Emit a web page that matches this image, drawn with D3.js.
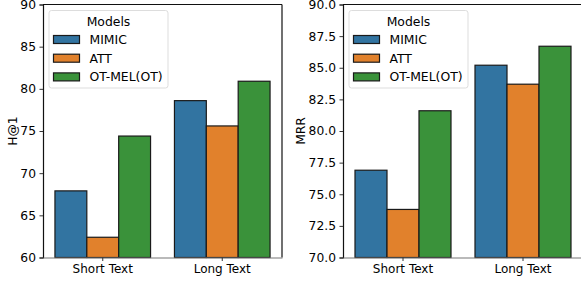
<!DOCTYPE html>
<html>
<head>
<meta charset="utf-8">
<script src="https://cdn.jsdelivr.net/npm/d3@7"></script>
<style>
  body { margin: 0; background: #fff; }
  text { font-family: "DejaVu Sans", sans-serif; }
</style>
</head>
<body>
<div id="chart"></div>
<script>
// data
let categories = ["Short Text", "Long Text"];
let models = ["MIMIC", "ATT", "OT-MEL(OT)"];
let h1Values = [
  [67.9, 62.4, 74.4],
  [78.6, 75.6, 80.9]
];
let mrrValues = [
  [76.9, 73.8, 81.6],
  [85.2, 83.7, 86.7]
];
let h1Ticks = [60, 65, 70, 75, 80, 85, 90];
let mrrTicks = [70.0, 72.5, 75.0, 77.5, 80.0, 82.5, 85.0, 87.5, 90.0];

let colors = ["#3274a1", "#e1812c", "#3a923a"];

let width = 581;
let height = 282;
let plotTop = 4.5;
let plotBottom = 257.5;

let svg = d3
  .select("#chart")
  .append("svg")
  .attr("width", width)
  .attr("height", height);

function panel(opts) {
  let g = svg.append("g");

  let x = d3
    .scaleBand()
    .domain(categories)
    .range([opts.left, opts.right]);
  let xInner = d3
    .scaleBand()
    .domain(models)
    .range([0, x.bandwidth() * 0.8]);
  let y = d3.scaleLinear().domain(opts.domain).range([plotBottom, plotTop]);

  // bars
  opts.values.forEach(function(row, ci) {
    row.forEach(function(v, mi) {
      let x0 = x(categories[ci]) + x.bandwidth() * 0.1 + xInner(models[mi]);
      g.append("rect")
        .attr("x", x0)
        .attr("y", y(v))
        .attr("width", xInner.bandwidth())
        .attr("height", y(opts.domain[0]) - y(v))
        .attr("fill", colors[mi])
        .attr("stroke", "#1a1a1a")
        .attr("stroke-width", 1.2);
    });
  });

  // frame
  g.append("line")
    .attr("x1", opts.left).attr("x2", opts.right)
    .attr("y1", plotTop).attr("y2", plotTop)
    .attr("stroke", "#111").attr("stroke-width", 1.2);
  g.append("line")
    .attr("x1", opts.right).attr("x2", opts.right)
    .attr("y1", plotTop).attr("y2", plotBottom)
    .attr("stroke", "#111").attr("stroke-width", 1.2);

  // axes
  let yAxis = d3
    .axisLeft(y)
    .tickValues(opts.ticks)
    .tickFormat(opts.fmt)
    .tickSize(3.5)
    .tickPadding(3.5);
  let ya = g.append("g")
    .attr("transform", `translate(${opts.left},0)`)
    .call(yAxis);
  ya.select(".domain").attr("stroke", "#111").attr("stroke-width", 1.2);
  ya.selectAll(".tick line").attr("stroke", "#333");
  ya.selectAll("text").attr("font-size", 12.3).attr("fill", "#000")
    .attr("font-family", "DejaVu Sans");

  let xAxis = d3.axisBottom(x).tickSize(3.5).tickPadding(3.5).tickSizeOuter(0);
  let xa = g.append("g")
    .attr("transform", `translate(0,${plotBottom})`)
    .call(xAxis);
  xa.select(".domain").attr("stroke", "#777").attr("stroke-width", 1.2);
  xa.selectAll(".tick line").attr("stroke", "#333");
  xa.selectAll("text").attr("font-size", 12).attr("fill", "#000")
    .attr("font-family", "DejaVu Sans");

  // y label
  g.append("text")
    .attr("transform", `translate(${opts.labelX},${(plotTop + plotBottom) / 2}) rotate(-90)`)
    .attr("text-anchor", "middle")
    .attr("dy", "0.35em")
    .attr("font-size", 12.3)
    .attr("fill", "#000")
    .text(opts.label);

  // legend
  let lx = opts.left + 6;
  let ly = 10.5;
  let lg = g.append("g").attr("transform", `translate(${lx},${ly})`);
  lg.append("rect")
    .attr("width", 119)
    .attr("height", 77.5)
    .attr("rx", 2.5)
    .attr("fill", "#fff")
    .attr("fill-opacity", 0.8)
    .attr("stroke", "#ddd");
  lg.append("text")
    .attr("x", 59.5)
    .attr("y", 15.5)
    .attr("text-anchor", "middle")
    .attr("font-size", 12.4)
    .attr("fill", "#000")
    .text("Models");
  models.forEach(function(m, i) {
    let ry = 25 + i * 18.7;
    lg.append("rect")
      .attr("x", 4.5)
      .attr("y", ry)
      .attr("width", 26)
      .attr("height", 8)
      .attr("fill", colors[i])
      .attr("stroke", "#1a1a1a")
      .attr("stroke-width", 1.2);
    lg.append("text")
      .attr("x", 40.5)
      .attr("y", ry + 4)
      .attr("dy", "0.35em")
      .attr("font-size", 12.4)
      .attr("fill", "#000")
      .text(m);
  });
}

panel({
  left: 43, right: 282,
  domain: [60, 90], ticks: h1Ticks, fmt: d3.format("d"),
  values: h1Values, label: "H@1", labelX: 12.5
});

panel({
  left: 343, right: 583,
  domain: [70, 90], ticks: mrrTicks, fmt: d3.format(".1f"),
  values: mrrValues, label: "MRR", labelX: 301
});
</script>
</body>
</html>
